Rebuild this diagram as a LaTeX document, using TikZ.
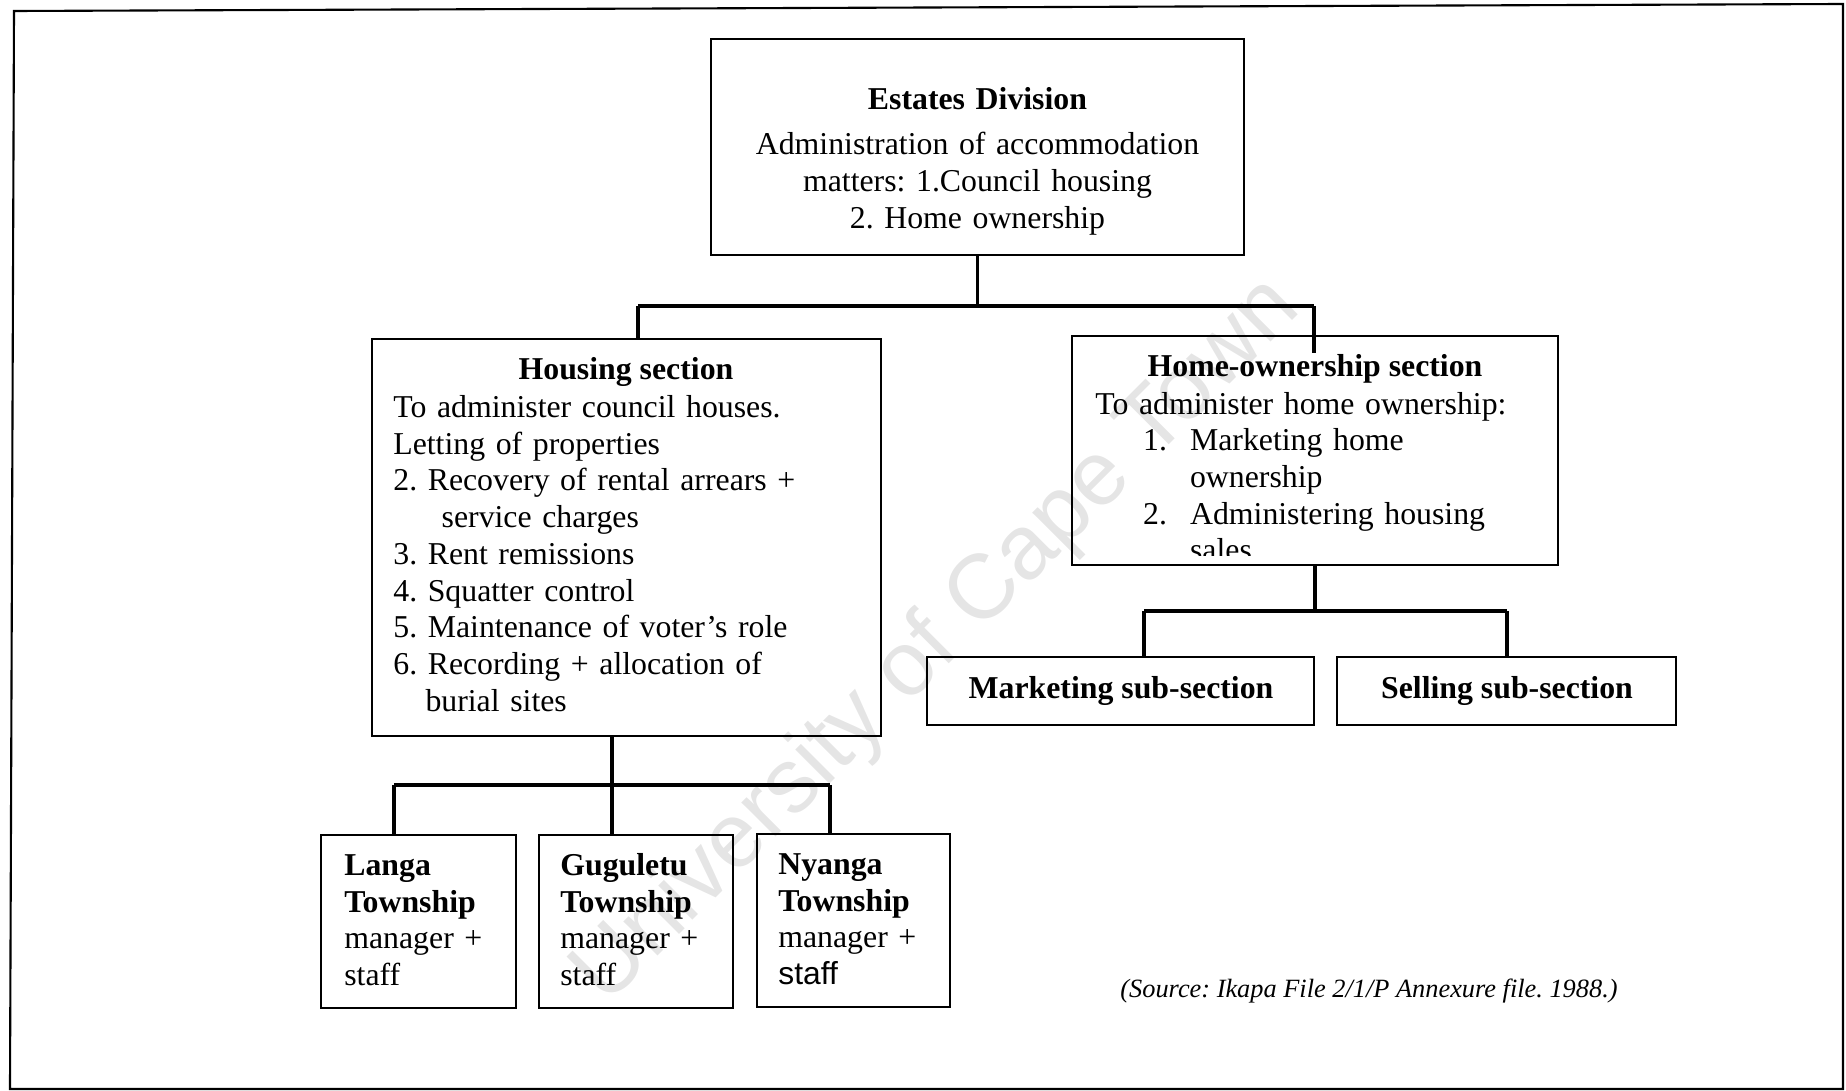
\documentclass[tikz,border=0pt]{standalone}
\usepackage{fontspec}
\setmainfont{Liberation Serif}
\newfontfamily\wmfont{Liberation Sans}
\frenchspacing
\begin{document}
\begin{tikzpicture}[x=0.02cm,y=-0.02cm,
  box/.style={draw, line width=1.4pt, inner sep=0pt},
  conn/.style={line width=2pt},
  txt/.style={inner sep=0pt, font=\fontsize{18.1}{20.9}\selectfont},
  ttl/.style={inner sep=0pt, font=\fontsize{18.1}{20.9}\selectfont\bfseries, anchor=base}]
\useasboundingbox (0,0) rectangle (1846,1091);
% watermark
\node[font=\wmfont\fontsize{52}{52}\selectfont, text=black!10, rotate=45, inner sep=0pt] (wm) at (938,642) {University of Cape Town};
% outer frame
\draw[line width=1.2pt] (14,11) -- (1843,4) -- (1843,1089) -- (10,1089) -- cycle;
% boxes
\node[box, minimum width=10.66cm, minimum height=4.32cm] (est) at (977.5,147) {};
\node[box, minimum width=10.18cm, minimum height=7.94cm] (hous) at (626.5,537.5) {};
\node[box, minimum width=9.72cm, minimum height=4.58cm] (home) at (1315,450.5) {};
\node[box, minimum width=7.74cm, minimum height=1.36cm] (mkt) at (1120.5,691) {};
\node[box, minimum width=6.78cm, minimum height=1.36cm] (sel) at (1506.5,691) {};
\node[box, minimum width=3.9cm, minimum height=3.46cm] (lan) at (418.5,921.5) {};
\node[box, minimum width=3.88cm, minimum height=3.46cm] (gug) at (636,921.5) {};
\node[box, minimum width=3.86cm, minimum height=3.46cm] (nya) at (853.5,920.5) {};
% texts
\node[txt, anchor=base, text width=10cm, align=center] (estt) at (977.5,110)
  {\textbf{Estates Division}\\[4.7pt] Administration of accommodation\\ matters: 1.Council housing\\ 2. Home ownership};
\node[ttl] (houst) at (626,379) {Housing section};
\node[txt, anchor=base west, text width=9.5cm, align=left] (housb) at (393,417.5)
  {To administer council houses.\\ Letting of properties\\ 2. Recovery of rental arrears +\\ \hspace*{27.5pt}service charges\\ 3. Rent remissions\\ 4. Squatter control\\ 5. Maintenance of voter’s role\\ 6. Recording + allocation of\\ \hspace*{18.3pt}burial sites};
\node[ttl] (homet) at (1315,376) {Home-ownership section};
\begin{scope}
\clip (1072,336) rectangle (1558,555);
\node[txt, anchor=base west, text width=9cm, align=left] (homeb) at (1095,414)
  {To administer home ownership:\\ \hspace*{27.2pt}\makebox[26.7pt][l]{1.}Marketing home\\ \hspace*{53.9pt}ownership\\ \hspace*{27.2pt}\makebox[26.7pt][l]{2.}Administering housing\\ \hspace*{53.9pt}sales};
\end{scope}
\node[ttl] (mktt) at (1121,698) {Marketing sub-section};
\node[ttl] (selt) at (1507,698) {Selling sub-section};
\node[txt, anchor=base west, text width=3.5cm, align=left] (lant) at (344,875.5)
  {\textbf{Langa}\\ \textbf{Township}\\ manager +\\ staff};
\node[txt, anchor=base west, text width=3.5cm, align=left] (gugt) at (560,875.5)
  {\textbf{Guguletu}\\ \textbf{Township}\\ manager +\\ staff};
\node[txt, anchor=base west, text width=3.5cm, align=left] (nyat) at (778,874.5)
  {\textbf{Nyanga}\\ \textbf{Township}\\ manager +\\ {\wmfont staff}};
\node[inner sep=0pt, anchor=base, font=\fontsize{15}{18}\selectfont\itshape] (src) at (1369,997)
  {(Source: Ikapa File 2/1/P Annexure file. 1988.)};
% connectors
\coordinate (jtop) at (977.5,306);
\coordinate (jl) at (638,306);
\coordinate (jr) at (1314,306);
\coordinate (jrend) at (1314,353);
\draw[conn] (est.south) -- (jtop);
\draw[conn] (jl) -- (jr);
\draw[conn] (jl) -- (jl |- hous.north);
\draw[conn] (jr) -- (jrend);
\coordinate (hj) at (1315,611);
\coordinate (hm) at (1144,611);
\coordinate (hs) at (1507,611);
\draw[conn] (home.south) -- (hj);
\draw[conn] (hm) -- (hs);
\draw[conn] (hm) -- (hm |- mkt.north);
\draw[conn] (hs) -- (hs |- sel.north);
\coordinate (hd) at (612,785);
\coordinate (gl) at (394,785);
\coordinate (gr) at (830,785);
\draw[conn] (hd |- hous.south) -- (hd) -- (hd |- gug.north);
\draw[conn] (gl) -- (gr);
\draw[conn] (gl) -- (gl |- lan.north);
\draw[conn] (gr) -- (gr |- nya.north);
\end{tikzpicture}
\end{document}
